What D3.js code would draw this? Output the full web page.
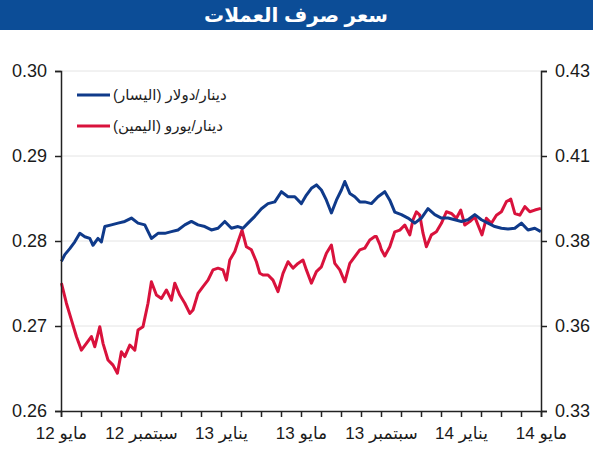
<!DOCTYPE html>
<html>
<head>
<meta charset="utf-8">
<script src="https://cdn.jsdelivr.net/npm/d3@7"></script>
<style>
  body { margin: 0; background: #fff; }
  text { font-family: "Liberation Sans", Arial, "DejaVu Sans", sans-serif; }
</style>
</head>
<body>
<svg width="593" height="450"></svg>
<script>
// months since May 2012 / dinar per dollar (left axis)
var usdMonths = [0.02,0.19,0.44,0.69,0.94,1.19,1.44,1.60,1.85,2.02,2.19,2.52,2.85,3.19,3.52,3.85,4.19,4.52,4.85,5.19,5.52,5.85,6.19,6.52,6.85,7.19,7.52,7.85,8.19,8.52,8.85,9.10,9.35,9.69,10.02,10.35,10.69,11.02,11.35,11.69,12.02,12.27,12.52,12.77,13.02,13.27,13.52,13.77,14.02,14.19,14.44,14.69,14.94,15.19,15.52,15.85,16.19,16.44,16.69,17.02,17.35,17.69,18.02,18.35,18.69,19.02,19.35,19.69,20.02,20.35,20.69,21.02,21.35,21.69,22.02,22.35,22.69,23.02,23.35,23.69,23.99];
var usdValues = [0.2776,0.2784,0.2791,0.2799,0.2809,0.2805,0.2803,0.2795,0.2803,0.2799,0.2817,0.2819,0.2821,0.2823,0.2827,0.2821,0.2819,0.2803,0.2809,0.2809,0.2811,0.2813,0.2819,0.2823,0.2819,0.2817,0.2813,0.2815,0.2823,0.2815,0.2817,0.2815,0.2821,0.2829,0.2838,0.2844,0.2846,0.2858,0.2852,0.2852,0.2844,0.2854,0.2862,0.2866,0.2860,0.2848,0.2833,0.2848,0.2860,0.2870,0.2856,0.2852,0.2846,0.2846,0.2844,0.2852,0.2858,0.2848,0.2834,0.2831,0.2827,0.2821,0.2827,0.2838,0.2831,0.2827,0.2827,0.2825,0.2823,0.2825,0.2831,0.2825,0.2821,0.2817,0.2815,0.2814,0.2815,0.2821,0.2813,0.2815,0.2811];

// months since May 2012 / dinar per euro (right axis)
var eurMonths = [0.02,0.27,0.52,0.77,1.02,1.27,1.52,1.69,1.94,2.10,2.35,2.60,2.82,3.02,3.19,3.44,3.69,3.85,4.10,4.35,4.52,4.77,5.02,5.27,5.52,5.69,5.94,6.19,6.44,6.60,6.85,7.10,7.35,7.60,7.85,8.10,8.27,8.44,8.69,8.85,9.05,9.27,9.52,9.77,9.94,10.10,10.35,10.60,10.85,11.10,11.35,11.60,11.85,12.10,12.27,12.52,12.77,13.02,13.27,13.52,13.69,13.94,14.19,14.44,14.69,14.94,15.19,15.44,15.69,15.77,15.94,16.02,16.19,16.44,16.69,16.94,17.19,17.44,17.60,17.77,17.94,18.10,18.27,18.52,18.77,19.02,19.27,19.52,19.77,19.99,20.19,20.44,20.69,20.85,21.05,21.27,21.52,21.77,22.02,22.27,22.49,22.69,22.94,23.19,23.44,23.69,23.99];
var eurValues = [0.3676,0.3617,0.3568,0.3519,0.3479,0.3499,0.3519,0.3489,0.3548,0.3499,0.3450,0.3435,0.3411,0.3474,0.3460,0.3494,0.3479,0.3538,0.3548,0.3617,0.3680,0.3641,0.3631,0.3656,0.3626,0.3676,0.3641,0.3617,0.3587,0.3597,0.3646,0.3666,0.3685,0.3715,0.3720,0.3715,0.3685,0.3744,0.3769,0.3798,0.3832,0.3783,0.3774,0.3739,0.3705,0.3700,0.3700,0.3685,0.3651,0.3705,0.3739,0.3720,0.3734,0.3744,0.3715,0.3676,0.3710,0.3724,0.3764,0.3788,0.3734,0.3715,0.3680,0.3734,0.3754,0.3774,0.3779,0.3803,0.3813,0.3813,0.3790,0.3774,0.3756,0.3783,0.3827,0.3832,0.3847,0.3818,0.3862,0.3886,0.3876,0.3823,0.3783,0.3818,0.3827,0.3852,0.3886,0.3881,0.3867,0.3891,0.3847,0.3857,0.3871,0.3847,0.3818,0.3867,0.3852,0.3876,0.3886,0.3916,0.3923,0.3881,0.3876,0.3901,0.3886,0.3891,0.3896];

var monthLabels = ['مايو 12', 'سبتمبر 12', 'يناير 13', 'مايو 13', 'سبتمبر 13', 'يناير 14', 'مايو 14'];
var leftTicks = [0.26, 0.27, 0.28, 0.29, 0.30];
var rightTicks = [0.33, 0.355, 0.38, 0.405, 0.43];
var rightTickLabels = ['0.33', '0.36', '0.38', '0.41', '0.43'];
var seriesNames = ['دينار/دولار (اليسار)', 'دينار/يورو (اليمين)'];
var title = 'سعر صرف العملات';

var blue = '#0f3a8a';
var red = '#d9123c';

var svg = d3.select('svg');

// title bar
svg.append('rect')
    .attr('x', 0).attr('y', 0)
    .attr('width', 593).attr('height', 30)
    .attr('fill', '#0c4d97');
svg.append('text')
    .attr('x', 296).attr('y', 22)
    .attr('text-anchor', 'middle')
    .attr('fill', '#fff')
    .style('font-size', '20px')
    .style('font-weight', 'bold')
    .text(title);

// scales
var x = d3.scaleLinear().domain([0, 24]).range([61, 541]);
var yLeft = d3.scaleLinear().domain([0.26, 0.30]).range([411, 71]);
var yRight = d3.scaleLinear().domain([0.33, 0.43]).range([411, 71]);

// grid
svg.append('g').selectAll('line')
    .data(leftTicks.slice(1))
    .enter().append('line')
    .attr('x1', x(0)).attr('x2', x(24))
    .attr('y1', d => yLeft(d)).attr('y2', d => yLeft(d))
    .attr('stroke', '#e4e4e4')
    .attr('stroke-width', 1);

// lines
var usdLine = d3.line()
    .x((d, i) => x(usdMonths[i]))
    .y(d => yLeft(d));
var eurLine = d3.line()
    .x((d, i) => x(eurMonths[i]))
    .y(d => yRight(d));

svg.append('path')
    .attr('d', eurLine(eurValues))
    .attr('fill', 'none')
    .attr('stroke', red)
    .attr('stroke-width', 3)
    .attr('stroke-linejoin', 'round');
svg.append('path')
    .attr('d', usdLine(usdValues))
    .attr('fill', 'none')
    .attr('stroke', blue)
    .attr('stroke-width', 3)
    .attr('stroke-linejoin', 'round');

// axes
var leftAxis = d3.axisLeft(yLeft)
    .tickValues(leftTicks)
    .tickFormat(d3.format('.2f'))
    .tickSizeOuter(0)
    .tickSize(6)
    .tickPadding(8);
var rightAxis = d3.axisRight(yRight)
    .tickValues(rightTicks)
    .tickFormat((d, i) => rightTickLabels[i])
    .tickSizeOuter(0)
    .tickSize(6)
    .tickPadding(8);
var bottomAxis = d3.axisBottom(x)
    .tickValues(d3.range(0, 25))
    .tickFormat(d => d % 4 == 0 ? monthLabels[d / 4] : '')
    .tickSizeOuter(0)
    .tickSize(6)
    .tickPadding(10);

svg.append('g').attr('class', 'axis')
    .attr('transform', 'translate(61,0)')
    .call(leftAxis);
svg.append('g').attr('class', 'axis')
    .attr('transform', 'translate(541,0)')
    .call(rightAxis);
svg.append('g').attr('class', 'axis xaxis')
    .attr('transform', 'translate(0,411)')
    .call(bottomAxis);

svg.selectAll('.axis path, .axis line')
    .attr('stroke', '#222')
    .attr('stroke-width', 1.5);
svg.selectAll('.axis text')
    .attr('fill', '#1a1a1a')
    .style('font-size', '18px');
svg.selectAll('.xaxis text')
    .attr('direction', 'rtl')
    .style('font-size', '17px');

// legend
var legend = svg.append('g').selectAll('g')
    .data(seriesNames)
    .enter().append('g')
    .attr('transform', (d, i) => 'translate(0,' + (95 + i * 31) + ')');
legend.append('line')
    .attr('x1', 77).attr('x2', 110)
    .attr('stroke', (d, i) => i == 0 ? blue : red)
    .attr('stroke-width', 3);
legend.append('text')
    .attr('x', 113)
    .attr('y', 5)
    .attr('direction', 'rtl')
    .attr('text-anchor', 'end')
    .attr('fill', '#222')
    .style('font-size', '15px')
    .text(d => d);
</script>
</body>
</html>
